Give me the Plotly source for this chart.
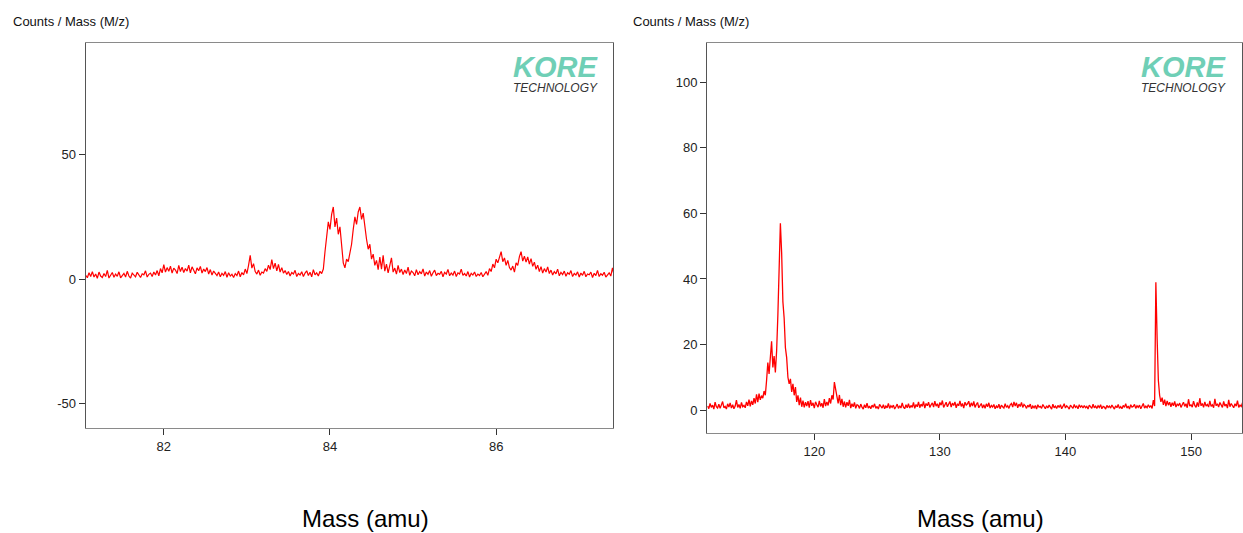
import numpy as np
import plotly.graph_objects as go

# ---------------- data ----------------
# Left spectrum: mass axis sampled every 0.02 amu starting at 81.06
left_mass_start = 81.06
left_mass_step = 0.02
left_counts = [
    1.5, 0.5, 2.5, 1, 3, 0.8, 2, 0.3, 2.8, 1.2,
    0.6, 2.2, 1, 3.5, 0.4, 1.8, 2.6, 0.7, 2, 1.1,
    2.9, 0.5, 1.6, 2.3, 0.8, 3.1, 1.2, 0.4, 2.4, 1.5,
    0.9, 2.7, 1.3, 0.6, 2.1, 1.7, 3.3, 0.8, 1.9, 2.4,
    1, 2.8, 1.6, 3.4, 1.3, 4.2, 2.5, 5.8, 2.8, 4.6,
    3.1, 5.2, 2.4, 4.4, 3.6, 2.2, 5.5, 3, 4.8, 2.6,
    4.2, 3.2, 5.6, 2.5, 4.9, 3.4, 2.1, 4.5, 3.3, 5.1,
    2.4, 4, 3, 4.6, 2, 3.8, 1.6, 3.2, 2.2, 1.4,
    2.8, 0.9, 2.3, 1.5, 3, 0.7, 2.5, 1.2, 1.9, 0.6,
    2.2, 1.4, 3.2, 0.9, 2.6, 1.7, 4, 2.2, 5.5, 9.5,
    4.4, 6.2, 3, 2, 3.6, 1.5, 2.8, 2.4, 4.2, 3.1,
    5.6, 3.8, 7.8, 4.2, 6.4, 3.3, 5.9, 2.8, 4.6, 2.4,
    3.4, 1.8, 3, 1.2, 2.6, 2, 3.5, 1, 2.2, 1.6,
    2.9, 1, 2.4, 3.3, 1.4, 2.7, 0.9, 3.8, 1.7, 2.5,
    1.2, 3.1, 2.2, 4, 11, 18, 23, 20, 26, 29,
    21, 24.5, 18, 21, 12, 6.5, 4.5, 8, 7, 11,
    14, 20, 25, 22, 27, 29, 24, 26.5, 20, 16,
    12, 14, 8, 10, 5.5, 7.5, 3.8, 8.8, 4, 9.5,
    3.2, 6, 2.5, 5.2, 8.5, 2.8, 4.4, 2, 5.5, 2.6,
    4, 1.8, 3.6, 2.2, 4.8, 1.5, 3.2, 2.6, 1.3, 3.8,
    1.7, 3, 2.1, 4.1, 1.2, 2.8, 1.9, 3.4, 1.1, 2.5,
    3.6, 1.4, 2.3, 1.9, 3.1, 0.9, 2.7, 2, 3.9, 1.3,
    2.4, 1.6, 3.2, 1, 2.5, 2, 4, 1.5, 2.2, 1.2,
    3, 0.8, 2.3, 1.6, 2.8, 1, 2, 1.4, 2.6, 0.9,
    1.8, 3, 1.5, 4.2, 3, 6, 4.5, 8, 6.5, 9,
    11, 7, 8.5, 5.5, 7.5, 4.6, 3.6, 5.2, 2.8, 6.5,
    5.5, 9, 11, 7.2, 9.2, 6.8, 8.9, 6, 8.2, 5.1,
    6.8, 3.9, 5.6, 3, 5, 2.4, 4.2, 2.8, 4.9, 2.2,
    3.6, 1.6, 3, 2.1, 4, 1.3, 2.7, 1.8, 3.2, 1.1,
    2.5, 1.9, 3.4, 1, 2.2, 1.6, 2.9, 0.8, 2.4, 1.5,
    3.1, 0.9, 2, 1.7, 2.8, 0.6, 2.3, 1.4, 3.5, 1,
    2.1, 1.5, 2.7, 0.8, 1.9, 2.5, 1.2, 4.5, 1.4, 2,
]

# Right spectrum: mass axis sampled every 0.1 amu starting at 111.5
right_mass_start = 111.5
right_mass_step = 0.1
right_counts = [
    1.2, 0.4, 2, 0.8, 1.5, 0.3, 2.4, 1, 0.6, 1.8,
    0.5, 1.4, 2.6, 0.7, 1.1, 0.3, 1.9, 0.9, 2.2, 0.6,
    1.6, 0.4, 1.2, 3, 0.8, 1.7, 0.5, 2.3, 1, 1.4,
    0.7, 2.5, 1.3, 3.2, 1.1, 2.8, 1.6, 3.6, 2, 4.8,
    2.4, 5, 3.1, 4.4, 3.6, 5.8, 4.5, 9, 14.5, 11,
    17.5, 21, 13, 16.5, 11.5, 18, 29, 42, 57, 48,
    33, 28, 19, 16, 10, 8, 9.5, 5.5, 8, 4.5,
    7, 2.5, 4.5, 1.5, 3.8, 1, 2.9, 0.8, 2.4, 1.2,
    2.7, 0.7, 3, 1.3, 2.2, 0.6, 2.5, 1.6, 0.9, 2.8,
    1.1, 2.1, 0.7, 3.3, 1.2, 2.5, 1.4, 3.6, 2, 4.5,
    3.2, 8.5, 5.8, 4, 2, 4.6, 1.5, 3.4, 1, 2.6,
    0.8, 2.4, 1.3, 3.1, 0.6, 1.9, 1, 2.3, 0.5, 1.6,
    1.4, 0.5, 1.8, 0.9, 0.3, 1.6, 0.7, 2.1, 0.6, 1.2,
    0.4, 1.5, 0.8, 1.9, 0.5, 1.1, 0.3, 1.7, 0.9, 0.6,
    1.6, 0.4, 1.2, 0.7, 2, 0.5, 1.3, 0.8, 1.5, 0.3,
    1, 1.8, 0.5, 1.3, 0.6, 2.2, 0.9, 0.4, 1.6, 0.7,
    1.9, 0.6, 1.4, 0.8, 2.3, 0.5, 1.7, 1, 2.5, 0.7,
    1.8, 1.1, 2.6, 0.6, 2, 1.3, 2.4, 0.8, 1.6, 2.2,
    0.9, 2.7, 1.2, 1.9, 0.7, 2.3, 1.5, 2.9, 0.8, 1.7,
    2.4, 1, 1.8, 2.6, 0.9, 2.1, 1.4, 2.5, 0.7, 1.9,
    1.3, 2.8, 1.1, 2, 0.6, 2.4, 1.5, 1.9, 2.7, 0.9,
    2.2, 1.2, 2.6, 0.8, 1.7, 2.3, 0.7, 1.5, 2, 0.6,
    1.6, 0.5, 1.9, 1, 2.2, 0.6, 1.4, 0.9, 1.7, 0.4,
    1.2, 0.7, 1.8, 0.4, 1.5, 1, 0.6, 1.9, 0.8, 1.3,
    0.5, 1.6, 2, 0.9, 2.5, 1.2, 2.2, 0.7, 1.8, 1.1,
    2.3, 0.8, 1.7, 1.3, 0.5, 1.5, 0.9, 1.8, 0.4, 1.2,
    0.7, 1.4, 0.3, 1.6, 0.9, 1.1, 0.5, 1.7, 0.8, 0.4,
    1.3, 0.6, 1.5, 0.9, 0.3, 1.8, 0.7, 1.2, 0.5, 1.4,
    0.8, 1.6, 0.4, 1.1, 1.9, 0.6, 1.3, 0.9, 0.3, 1.5,
    1, 0.5, 1.7, 0.8, 1.2, 0.4, 1.6, 0.9, 1.3, 0.6,
    1.4, 0.7, 1.1, 0.3, 1.5, 0.9, 0.5, 1.8, 0.7, 1.2,
    0.5, 1.3, 0.8, 1.6, 0.4, 1.1, 0.9, 0.3, 1.4, 0.8,
    1.2, 0.6, 1.5, 0.9, 0.3, 1.3, 0.7, 1.7, 0.5, 1,
    0.4, 1.4, 0.8, 1.9, 0.6, 1.2, 0.3, 1.6, 0.9, 1.1,
    1.7, 0.5, 1.3, 0.8, 1.5, 0.4, 1.1, 2, 0.6, 1.2,
    0.7, 1.6, 0.9, 1.3, 0.5, 3, 1.2, 39, 22, 9,
    4.5, 2.5, 3.8, 1.6, 3.2, 1.2, 2.8, 1.5, 2.4, 1,
    2.2, 1.3, 2.6, 0.9, 1.8, 1.4, 2.1, 0.8, 1.6, 2.4,
    1.1, 1.9, 0.7, 3.3, 1.2, 1.6, 0.9, 2.7, 1.4, 0.8,
    2.3, 1, 3.6, 1.3, 2, 0.8, 2.5, 1.2, 1.7, 0.9,
    2.8, 1.1, 1.6, 0.7, 3.4, 1.3, 1.9, 0.9, 2.3, 1.5,
    0.8, 2.6, 1.2, 1.8, 0.6, 3.1, 1, 2, 1.4, 0.7,
    1.9, 1.2, 2.9, 0.8, 1.5, 1.1, 2.2, 0.6, 1.3, 1,
]

left_xticks = [82, 84, 86]
left_yticks = [-50, 0, 50]
left_yticklabels = ["-50", "0", "50"]
right_xticks = [120, 130, 140, 150]
right_yticks = [0, 20, 40, 60, 80, 100]

y_title = "Counts / Mass (M/z)"
x_title = "Mass (amu)"

left_mass = np.round(left_mass_start + left_mass_step * np.arange(len(left_counts)), 3)
right_mass = np.round(right_mass_start + right_mass_step * np.arange(len(right_counts)), 3)

# ---------------- figure ----------------
W, H = 1243, 533
FONT = "Liberation Sans, Arial, Helvetica, sans-serif"
RED = "#ff0000"

fig = go.Figure()
fig.add_trace(go.Scatter(x=left_mass, y=left_counts, mode="lines",
                         line=dict(color=RED, width=1.2), xaxis="x", yaxis="y",
                         showlegend=False, hoverinfo="x+y"))
fig.add_trace(go.Scatter(x=right_mass, y=right_counts, mode="lines",
                         line=dict(color=RED, width=1.3), xaxis="x2", yaxis="y2",
                         showlegend=False, hoverinfo="x+y"))


def px(x):
    return x / W


def py(y):
    return 1 - y / H


axis_common = dict(
    showgrid=False, zeroline=False, showline=True, mirror=True,
    linecolor="#8a8a8a", linewidth=1.3,
    ticks="outside", ticklen=6, tickwidth=1, tickcolor="#333333",
    tickfont=dict(family=FONT, size=13, color="#222222"),
)

fig.update_layout(
    width=W, height=H,
    margin=dict(l=0, r=0, t=0, b=0),
    paper_bgcolor="white", plot_bgcolor="white",
    font=dict(family=FONT),
    xaxis=dict(domain=[px(85.7), px(613.3)], range=[81.06, 87.41],
               tickvals=left_xticks, anchor="y", **axis_common),
    yaxis=dict(domain=[py(428.3), py(43.3)], range=[-60.1, 94.9],
               tickvals=left_yticks, ticktext=left_yticklabels, anchor="x", **axis_common),
    xaxis2=dict(domain=[px(707.3), px(1242)], range=[111.48, 154.06],
                tickvals=right_xticks, anchor="y2", **axis_common),
    yaxis2=dict(domain=[py(433.3), py(43.3)], range=[-7.1, 111.9],
                tickvals=right_yticks, anchor="x2", **axis_common),
)
fig.update_yaxes(linecolor="#555555")

annotations = []
# axis titles
for xpos in (11, 631):
    annotations.append(dict(x=px(xpos), y=py(21.5), xref="paper", yref="paper",
                            text=y_title, showarrow=False, xanchor="left", yanchor="middle",
                            font=dict(family=FONT, size=13, color="#111111")))
for xpos in (365, 980):
    annotations.append(dict(x=px(xpos), y=py(518), xref="paper", yref="paper",
                            text=x_title, showarrow=False, xanchor="center", yanchor="middle",
                            font=dict(family=FONT, size=24, color="#000000")))
# KORE logos
for right_edge in (600, 1228):
    annotations.append(dict(x=px(right_edge), y=py(67), xref="paper", yref="paper",
                            text="<b><i>KORE</i></b>", showarrow=False,
                            xanchor="right", yanchor="middle",
                            font=dict(family=FONT, size=29, color="#6fcfb6")))
    annotations.append(dict(x=px(right_edge), y=py(88), xref="paper", yref="paper",
                            text="<i>TECHNOLOGY</i>", showarrow=False,
                            xanchor="right", yanchor="middle",
                            font=dict(family=FONT, size=12, color="#333333")))
fig.update_layout(annotations=annotations)

fig.write_html(
    "out.html",
    config={"displayModeBar": False},
    post_script="document.body.style.margin='0';document.body.style.overflow='hidden';",
)
